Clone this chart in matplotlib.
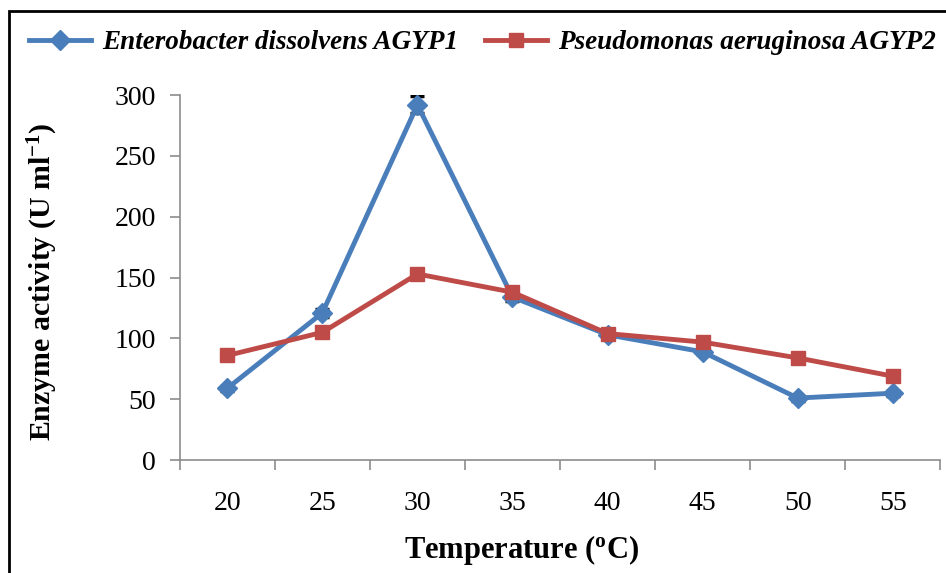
"""Enzyme activity vs temperature for two isolates"""
import numpy as np
import matplotlib
matplotlib.use("Agg")
import matplotlib.pyplot as plt
from matplotlib.patches import Rectangle

temps = [20, 25, 30, 35, 40, 45, 50, 55]
entero = [59, 121, 292, 134, 103, 89, 51, 55]
entero_err = [2, 3, 7, 3, 2, 2, 2, 2]
pseudo = [86, 105, 153, 138, 104, 97, 84, 69]
pseudo_err = [2, 2, 3, 2, 2, 2, 2, 2]

plt.rcParams['font.family'] = ['Liberation Serif', 'DejaVu Serif']

fig = plt.figure(figsize=(9.46, 5.73), dpi=100)
ax = fig.add_axes([0.190, 0.197, 0.804, 0.637])

blue = "#4a7ebb"
red = "#be4b48"

ax.errorbar(temps, entero, yerr=entero_err, color=blue, lw=3.5, marker="D", ms=10,
            ecolor="black", elinewidth=1, capsize=5, capthick=2.5,
            label="Enterobacter dissolvens AGYP1", zorder=3)
ax.errorbar(temps, pseudo, yerr=pseudo_err, color=red, lw=3.5, marker="s", ms=10,
            ecolor="black", elinewidth=1, capsize=5, capthick=2.5,
            label="Pseudomonas aeruginosa AGYP2", zorder=3)

ax.set_xlim(17.5, 57.5)
ax.set_ylim(0, 300)
ax.set_yticks(range(0, 301, 50))
ax.set_xticks(temps)
ax.set_xticks(np.arange(17.5, 58, 5), minor=True)
ax.tick_params(axis="x", which="major", length=0, labelsize=20, pad=22)
ax.tick_params(axis="x", which="minor", length=7, color="#8c8c8c", width=1.2)
ax.tick_params(axis="y", length=7, color="#8c8c8c", width=1.2, labelsize=20, pad=10)

for s in ["top", "right"]:
    ax.spines[s].set_visible(False)
for s in ["left", "bottom"]:
    ax.spines[s].set_color("#8c8c8c")
    ax.spines[s].set_linewidth(1.2)

ax.set_xlabel("Temperature ($\\mathregular{^{o}}$C)", fontsize=22, fontweight="bold", labelpad=14)
ax.xaxis.set_label_coords(0.45, -0.2)
ax.xaxis.label.set_va("top")
ax.set_ylabel("Enzyme activity (U ml$\\mathregular{^{-1}}$)", fontsize=21.5, fontweight="bold")
ax.yaxis.set_label_coords(-0.158, 0.49)

handles, labels = ax.get_legend_handles_labels()
handles = [h[0] for h in handles]
fig.legend(handles, labels, loc="center", bbox_to_anchor=(0.51, 0.925), ncol=2, frameon=False,
           prop={"style": "italic", "weight": "bold", "size": 19.5}, handlelength=2.3,
           columnspacing=1.0, handletextpad=0.4)

fig.patches.append(Rectangle((9 / 946, -0.2), 1.5, 1 - 11 / 573 + 0.2, transform=fig.transFigure,
                             fill=False, edgecolor="black", lw=2))

plt.savefig("out.png", dpi=100)
